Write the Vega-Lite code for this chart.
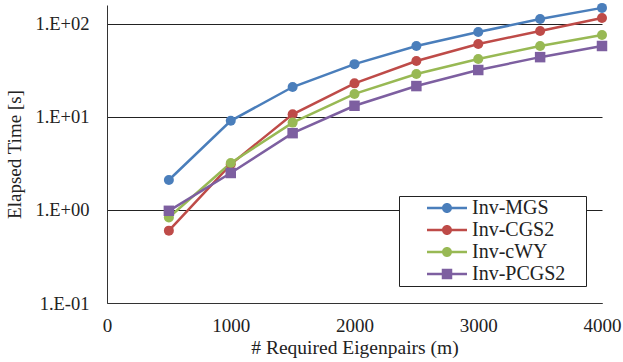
{
  "$schema": "https://vega.github.io/schema/vega-lite/v6.json",
  "width": 495,
  "height": 298,
  "autosize": "none",
  "padding": {"left": 107, "top": 5, "right": 21, "bottom": 59},
  "background": "white",
  "config": {
    "view": {"stroke": null},
    "font": "Liberation Serif",
    "axis": {"labelFont": "Liberation Serif", "titleFont": "Liberation Serif", "labelColor": "#222", "titleColor": "#222", "titleFontWeight": "normal", "domainColor": "#333", "gridColor": "#222", "gridOpacity": 1}
  },
  "data": {"values": [
    {"m": 500, "method": "Inv-MGS", "t": 2.1},
    {"m": 1000, "method": "Inv-MGS", "t": 9.1},
    {"m": 1500, "method": "Inv-MGS", "t": 21},
    {"m": 2000, "method": "Inv-MGS", "t": 37},
    {"m": 2500, "method": "Inv-MGS", "t": 58},
    {"m": 3000, "method": "Inv-MGS", "t": 82},
    {"m": 3500, "method": "Inv-MGS", "t": 113},
    {"m": 4000, "method": "Inv-MGS", "t": 149},
    {"m": 500, "method": "Inv-CGS2", "t": 0.6},
    {"m": 1000, "method": "Inv-CGS2", "t": 3.1},
    {"m": 1500, "method": "Inv-CGS2", "t": 10.7},
    {"m": 2000, "method": "Inv-CGS2", "t": 23},
    {"m": 2500, "method": "Inv-CGS2", "t": 40},
    {"m": 3000, "method": "Inv-CGS2", "t": 61},
    {"m": 3500, "method": "Inv-CGS2", "t": 84},
    {"m": 4000, "method": "Inv-CGS2", "t": 116},
    {"m": 500, "method": "Inv-cWY", "t": 0.83},
    {"m": 1000, "method": "Inv-cWY", "t": 3.2},
    {"m": 1500, "method": "Inv-cWY", "t": 8.7},
    {"m": 2000, "method": "Inv-cWY", "t": 17.7},
    {"m": 2500, "method": "Inv-cWY", "t": 29},
    {"m": 3000, "method": "Inv-cWY", "t": 42},
    {"m": 3500, "method": "Inv-cWY", "t": 58},
    {"m": 4000, "method": "Inv-cWY", "t": 76},
    {"m": 500, "method": "Inv-PCGS2", "t": 0.98},
    {"m": 1000, "method": "Inv-PCGS2", "t": 2.5},
    {"m": 1500, "method": "Inv-PCGS2", "t": 6.7},
    {"m": 2000, "method": "Inv-PCGS2", "t": 13.2},
    {"m": 2500, "method": "Inv-PCGS2", "t": 21.5},
    {"m": 3000, "method": "Inv-PCGS2", "t": 32},
    {"m": 3500, "method": "Inv-PCGS2", "t": 44},
    {"m": 4000, "method": "Inv-PCGS2", "t": 58}
  ]},
  "encoding": {
    "x": {"field": "m", "type": "quantitative", "scale": {"domain": [0, 4000], "nice": false},
      "axis": {"values": [0, 1000, 2000, 3000, 4000], "format": "d", "grid": false, "ticks": false, "labelFlush": false, "labelFontSize": 19, "labelPadding": 13, "title": "# Required Eigenpairs (m)", "titleFontSize": 19.5, "titlePadding": 3}},
    "y": {"field": "t", "type": "quantitative", "scale": {"type": "log", "domain": [0.1, 160], "nice": false},
      "axis": {"values": [0.1, 1, 10, 100], "grid": true, "gridWidth": 1, "ticks": false, "labelFontSize": 18.5, "labelPadding": 18,
        "labelExpr": "datum.value < 0.5 ? '1.E-01' : datum.value < 5 ? '1.E+00' : datum.value < 50 ? '1.E+01' : '1.E+02'",
        "title": "Elapsed Time [s]", "titleFontSize": 19, "titlePadding": 10}},
    "color": {"field": "method", "type": "nominal",
      "scale": {"domain": ["Inv-MGS", "Inv-CGS2", "Inv-cWY", "Inv-PCGS2"], "range": ["#4A7EBB", "#BE4B48", "#98B954", "#7D5FA0"]},
      "legend": {
        "title": ".", "titleOrient": "right", "titleColor": "transparent", "titleFontSize": 4, "titlePadding": 18,
        "orient": "none", "legendX": 292, "legendY": 191,
        "fillColor": "white", "strokeColor": "#222", "padding": 2,
        "labelFont": "Liberation Serif", "labelFontSize": 20, "labelColor": "#222",
        "symbolSize": 100, "symbolOffset": 36, "labelOffset": 15, "rowPadding": 2,
        "symbolType": "M-4,-0.25H4V0.25H-4Z M1,0A1,1 0 1,1 -1,0A1,1 0 1,1 1,0Z",
        "symbolStrokeWidth": 0,
        "encode": {"symbols": {"update": {
          "shape": {"signal": "datum.value === 'Inv-PCGS2' ? 'M-4,-0.25H4V0.25H-4Z M-1.05,-1.05H1.05V1.05H-1.05Z' : 'M-4,-0.25H4V0.25H-4Z M1,0A1,1 0 1,1 -1,0A1,1 0 1,1 1,0Z'"},
          "fill": {"signal": "scale('color', datum.value)"},
          "fillOpacity": {"value": 1},
          "opacity": {"value": 1}
        }}}
      }}
  },
  "layer": [
    {"mark": {"type": "line", "strokeWidth": 2.5}},
    {"transform": [{"filter": "datum.method !== 'Inv-PCGS2'"}],
      "mark": {"type": "point", "shape": "circle", "filled": true, "opacity": 1, "size": 100}},
    {"transform": [{"filter": "datum.method === 'Inv-PCGS2'"}],
      "mark": {"type": "point", "shape": "square", "filled": true, "opacity": 1, "size": 110}}
  ]
}
